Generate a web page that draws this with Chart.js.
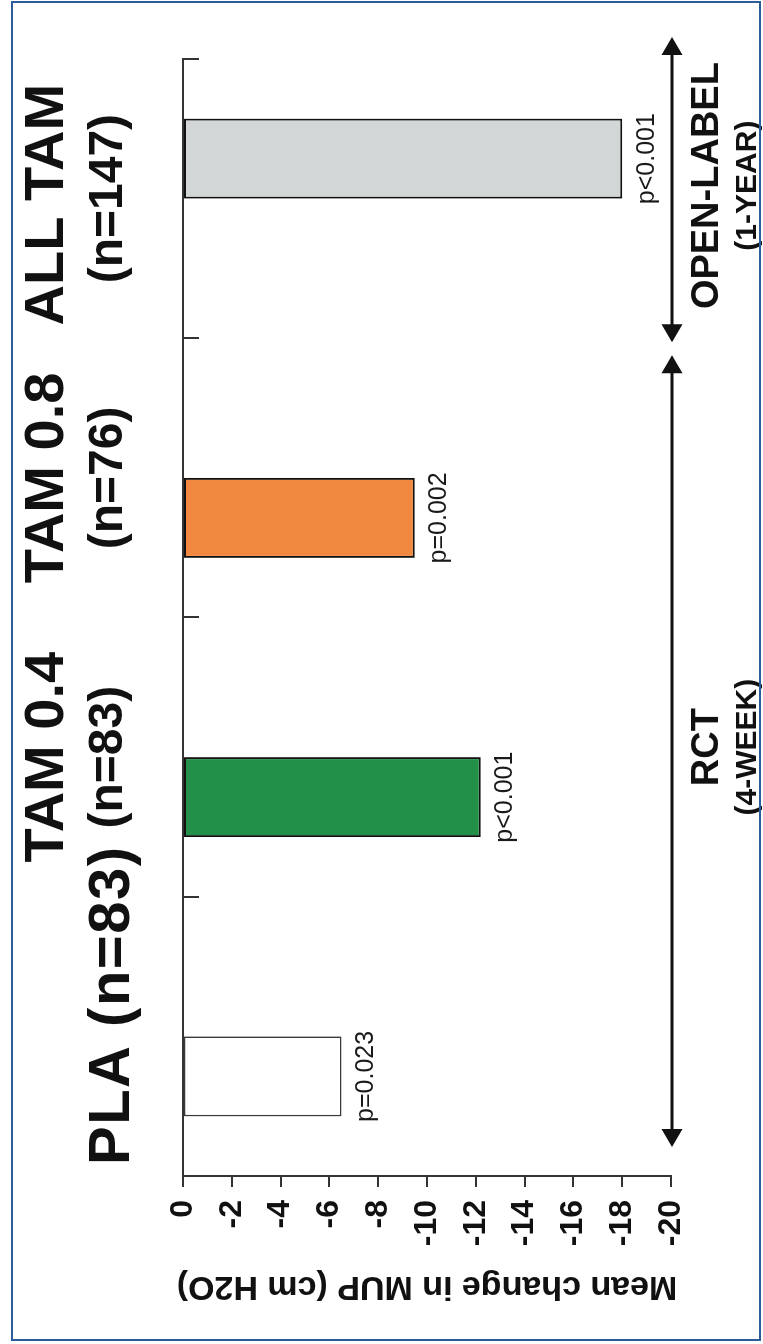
<!DOCTYPE html>
<html>
<head>
<meta charset="utf-8">
<script src="https://cdn.jsdelivr.net/npm/chart.js@4/dist/chart.umd.min.js"></script>
<style>
html,body{margin:0;padding:0;background:#fff;overflow:hidden;width:763px;height:1344px;}
#wrap{position:absolute;left:0;top:0;width:1344px;height:763px;transform-origin:0 0;transform:translateY(1344px) rotate(-90deg);}
#frame{position:absolute;left:11px;top:1px;width:750px;height:1340px;border:2px solid #2d5c9a;box-sizing:border-box;pointer-events:none;}
</style>
</head>
<body>
<div id="wrap"><canvas id="c" width="1344" height="763"></canvas></div>
<div id="frame"></div>
<script>
// ---- data ----
const categories = ['PLA', 'TAM 0.4', 'TAM 0.8', 'ALL TAM'];
const labelLine1 = ['PLA (n=83)', 'TAM 0.4', 'TAM 0.8', 'ALL TAM'];
const labelLine2 = ['', '(n=83)', '(n=76)', '(n=147)'];
const rctValues = [-6.5, -12.2, -9.5, null];
const openLabelValues = [null, null, null, -18.0];
const pLabels = ['p=0.023', 'p<0.001', 'p=0.002', 'p<0.001'];
const yTickValues = [0, -2, -4, -6, -8, -10, -12, -14, -16, -18, -20];
const yTitle = 'Mean change in MUP (cm H2O)';
const periodNames = ['RCT', 'OPEN-LABEL'];
const periodSubs = ['(4-WEEK)', '(1-YEAR)'];
const periodFirstCat = [0, 3];
const periodLastCat = [2, 3];

const FONT = '"Liberation Sans", Arial, Helvetica, sans-serif';
Chart.defaults.font.family = FONT;

function drawArrow(ctx, x1, x2, y) {
  const hl = 18, hw = 10.5;
  ctx.beginPath();
  ctx.moveTo(x1 + hl - 2, y);
  ctx.lineTo(x2 - hl + 2, y);
  ctx.stroke();
  ctx.beginPath();
  ctx.moveTo(x1, y); ctx.lineTo(x1 + hl, y - hw); ctx.lineTo(x1 + hl, y + hw); ctx.closePath(); ctx.fill();
  ctx.beginPath();
  ctx.moveTo(x2, y); ctx.lineTo(x2 - hl, y - hw); ctx.lineTo(x2 - hl, y + hw); ctx.closePath(); ctx.fill();
}

const annot = {
  id: 'annot',
  afterDraw(chart) {
    const ctx = chart.ctx;
    const xs = chart.scales.x;
    const ca = chart.chartArea;
    const n = categories.length;
    const cw = (xs.right - xs.left) / n;
    ctx.save();
    // inner tick marks on category axis
    ctx.strokeStyle = '#333';
    ctx.lineWidth = 2;
    for (let i = 1; i <= n; i++) {
      const px = Math.round(xs.left + i * cw);
      ctx.beginPath();
      ctx.moveTo(px, ca.top);
      ctx.lineTo(px, ca.top + 16);
      ctx.stroke();
    }
    // category labels
    ctx.fillStyle = '#111';
    ctx.textBaseline = 'alphabetic';
    for (let i = 0; i < n; i++) {
      const cx = xs.getPixelForValue(i);
      if (labelLine2[i]) {
        ctx.textAlign = 'center';
        ctx.font = 'bold 56px ' + FONT;
        ctx.fillText(labelLine1[i], cx + (i === n - 1 ? -6 : 0), 63);
        ctx.font = 'bold 48px ' + FONT;
        ctx.fillText(labelLine2[i], cx, 122);
      } else {
        ctx.textAlign = 'left';
        ctx.font = 'bold 58px ' + FONT;
        if ('letterSpacing' in ctx) ctx.letterSpacing = '1.5px';
        ctx.fillText(labelLine1[i], cx - cw / 2 + 11, 129);
        if ('letterSpacing' in ctx) ctx.letterSpacing = '0px';
      }
    }
    // p-value labels
    ctx.fillStyle = '#1a1a1a';
    ctx.font = '25px ' + FONT;
    ctx.textAlign = 'center';
    ctx.textBaseline = 'top';
    chart.data.datasets.forEach((ds, di) => {
      chart.getDatasetMeta(di).data.forEach((bar, i) => {
        if (ds.data[i] === null) return;
        ctx.fillText(pLabels[i], bar.x, bar.y + 12);
      });
    });
    // period arrows and labels
    ctx.strokeStyle = '#111';
    ctx.fillStyle = '#111';
    ctx.lineWidth = 3;
    const ay = ca.bottom + 1;
    const starts = [xs.left + periodFirstCat[0] * cw + 29, xs.left + periodFirstCat[1] * cw - 4];
    const ends = [xs.left + (periodLastCat[0] + 1) * cw - 17, xs.left + (periodLastCat[1] + 1) * cw + 22];
    for (let p = 0; p < periodNames.length; p++) {
      drawArrow(ctx, starts[p], ends[p], ay);
      const cx = (starts[p] + ends[p]) / 2 + 4;
      ctx.textAlign = 'center';
      ctx.textBaseline = 'alphabetic';
      ctx.font = 'bold 38px ' + FONT;
      ctx.fillText(periodNames[p], cx, ay + 46);
      ctx.font = 'bold 30px ' + FONT;
      ctx.fillText(periodSubs[p], cx, ay + 84);
    }
    ctx.restore();
  }
};

new Chart(document.getElementById('c'), {
  type: 'bar',
  data: {
    labels: categories,
    datasets: [
      {
        label: 'RCT (4-week)',
        data: rctValues,
        backgroundColor: ['#ffffff', '#23904a', '#f0893f', '#ffffff'],
        borderColor: ['#3a3a3a', '#111111', '#111111', '#111111'],
        borderWidth: [1.6, 2, 2, 2],
        borderSkipped: false,
        categoryPercentage: 0.573,
        barPercentage: 1
      },
      {
        label: 'Open-label (1-year)',
        data: openLabelValues,
        backgroundColor: '#d3d6d6',
        borderColor: '#111111',
        borderWidth: 2,
        borderSkipped: false,
        categoryPercentage: 0.573,
        barPercentage: 1
      }
    ]
  },
  options: {
    responsive: false,
    animation: false,
    devicePixelRatio: 1,
    layout: { padding: { left: 0, top: 0, right: 59, bottom: 92 } },
    plugins: { legend: { display: false }, tooltip: { enabled: false } },
    scales: {
      x: {
        position: 'top',
        offset: true,
        grid: { display: false, drawTicks: false },
        border: { display: true, color: '#333', width: 2 },
        ticks: { display: false },
        afterFit(s) { s.height = 183; }
      },
      y: {
        position: 'left',
        min: -20,
        max: 0,
        grid: { drawOnChartArea: false, drawTicks: true, tickLength: 11, color: '#333', lineWidth: 2 },
        border: { display: true, color: '#333', width: 2 },
        afterBuildTicks(s) { s.ticks = yTickValues.map(v => ({ value: v })); },
        ticks: { padding: 13, color: '#111', font: { size: 32, weight: 'bold' },
                 callback: (v) => String(v) },
        title: { display: true, text: yTitle, color: '#111', font: { size: 34, weight: 'bold' },
                 padding: { top: 37, bottom: 0 } },
        afterFit(s) { s.width = 168; }
      }
    }
  },
  plugins: [annot]
});
</script>
</body>
</html>
